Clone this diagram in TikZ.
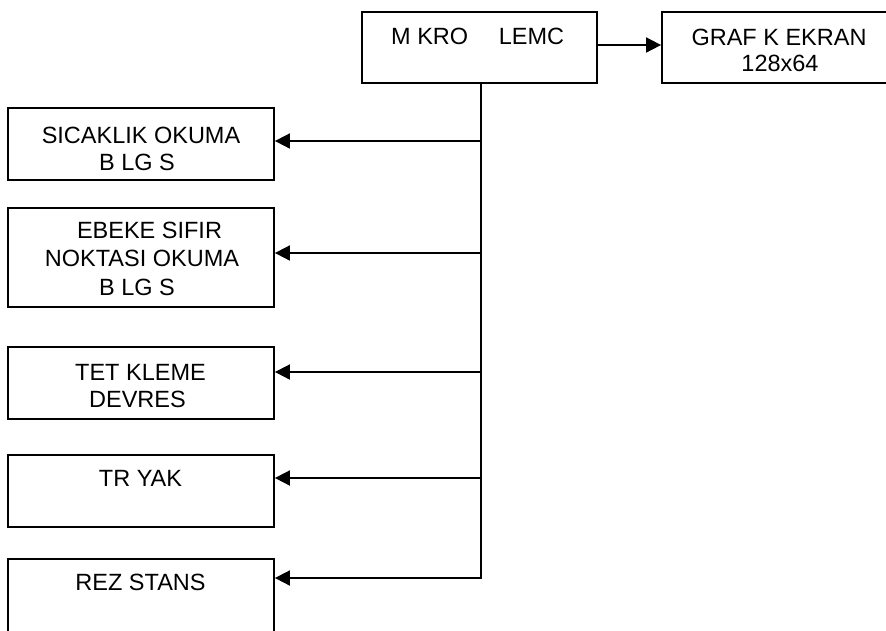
\documentclass[tikz,border=0pt]{standalone}
\usepackage{fontspec}
\setmainfont{Liberation Sans}
\usetikzlibrary{arrows.meta}
\begin{document}
\begin{tikzpicture}[x=1pt,y=-1pt,
  box/.style={draw, line width=1.8pt, inner sep=0pt, minimum width=266pt, minimum height=72pt},
  txt/.style={font=\fontsize{23.5}{27}\selectfont, inner sep=0pt, anchor=base},
  conn/.style={line width=1.8pt, -{Triangle[length=15pt,width=15pt]}}]
\useasboundingbox (0,0) rectangle (886,630);

% top boxes
\node[box, minimum width=235pt, minimum height=71pt] (mk) at (479.5,47.5) {};
\node[box, minimum width=236pt, minimum height=71pt] (gr) at (780,47.5) {};
\node[txt, anchor=base west] (mkt) at (391,44) {M KRO\hspace{30.6pt}LEMC};
\node[txt] (grt1) at (779,45) {GRAF K EKRAN};
\node[txt] (grt2) at (780,71.7) {128x64};

% left boxes
\node[box] (b1) at (141,144) {};
\node[box, minimum height=99pt] (b2) at (141,257.5) {};
\node[box] (b3) at (141,383) {};
\node[box] (b4) at (141,491) {};
\node[box, minimum height=76pt] (b5) at (141,597) {};

\node[txt] (t1a) at (141,143) {SICAKLIK OKUMA};
\node[txt] (t1b) at (137,170) {B LG S};
\node[txt] (t2a) at (149.5,238) {EBEKE SIFIR};
\node[txt] (t2b) at (142,266.7) {NOKTASI OKUMA};
\node[txt] (t2c) at (137,295) {B LG S};
\node[txt] (t3a) at (140.5,380.7) {TET KLEME};
\node[txt] (t3b) at (137.5,407.3) {DEVRES};
\node[txt] (t4a) at (140.5,486.7) {TR YAK};
\node[txt] (t5a) at (140.5,590.7) {REZ STANS};

% junctions on the trunk
\coordinate (j1) at (481,141);
\coordinate (j2) at (481,253);
\coordinate (j3) at (481,372);
\coordinate (j4) at (481,478);
\coordinate (j5) at (481,578);

% connectors
\draw[conn] ([yshift=2.5pt]mk.east) -- ([yshift=2.5pt]gr.west);
\draw[conn] (mk.south -| j5) -- (j5) -- (j5 -| b5.east);
\draw[conn] (j1) -- (j1 -| b1.east);
\draw[conn] (j2) -- (j2 -| b2.east);
\draw[conn] (j3) -- (j3 -| b3.east);
\draw[conn] (j4) -- (j4 -| b4.east);
\end{tikzpicture}
\end{document}
